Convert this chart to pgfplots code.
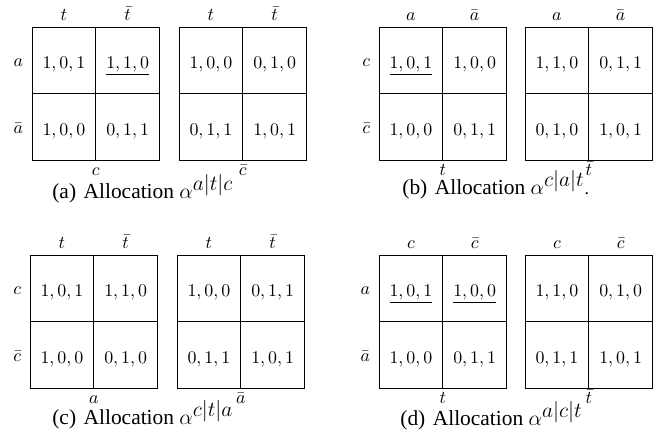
\documentclass[border=0pt]{standalone}
\usepackage{pgfplots}
\pgfplotsset{compat=1.18}
\usepackage{fontspec}
\setmainfont{Liberation Serif}

% one 2x2 payoff matrix per axis; 1px of the reference = 0.56pt
\pgfplotsset{
  payoff/.style={
    scale only axis, width=71.4pt, height=74.5pt, clip=false,
    anchor=north west,
    xmin=0, xmax=2, ymin=0, ymax=2,
    axis line style={line width=0.5pt},
    xtick={0.5,1.5}, ytick={0.5,1.5},
    xticklabel pos=upper,
    major tick length=0pt,
    xticklabel style={anchor=base, yshift=3.7pt},
    yticklabel style={anchor=base east, yshift=-3.6pt, xshift=-1.5pt},
    extra x ticks={1}, extra y ticks={1},
    extra x tick labels={}, extra y tick labels={},
    extra tick style={grid=major, major tick length=0pt},
    major grid style={black, line width=0.5pt},
    every node near coord/.append style={anchor=base, yshift=-4.7pt},
  },
  cells/.style={draw=none, mark=none, point meta=explicit symbolic,
    nodes near coords={$\pgfplotspointmeta$}},
  ucells/.style={draw=none, mark=none, point meta=explicit symbolic,
    nodes near coords={$\underline{\pgfplotspointmeta}$}},
}
\tikzset{botlab/.style={anchor=base, yshift=-8.9pt},
  capnode/.style={anchor=base west, inner sep=0pt}}
\newcommand{\capt}[2]{{\fontsize{12}{14}\selectfont(#1)\hspace{0.35em}Allocation $\alpha^{\textstyle #2}$}}

\begin{document}
\begin{tikzpicture}
\useasboundingbox (0,0) rectangle (370.72pt,-246.96pt);

%% (a)
\begin{axis}[payoff, at={(17.92pt,-15.12pt)},
  xticklabels={$t$,$\bar t$}, yticklabels={$\bar a$,$a$}]
\addplot[cells] table[meta=v, row sep=\\] {x y v\\ 0.5 1.5 1,0,1\\ 0.5 0.5 1,0,0\\ 1.5 0.5 0,1,1\\};
\addplot[ucells] table[meta=v, row sep=\\] {x y v\\ 1.5 1.5 1,1,0\\};
\node[botlab] at (rel axis cs:0.5,0) {$c$};
\end{axis}
\begin{axis}[payoff, at={(100.24pt,-15.12pt)},
  xticklabels={$t$,$\bar t$}, ytick=\empty]
\addplot[cells] table[meta=v, row sep=\\] {x y v\\ 0.5 1.5 1,0,0\\ 1.5 1.5 0,1,0\\ 0.5 0.5 0,1,1\\ 1.5 0.5 1,0,1\\};
\node[botlab] at (rel axis cs:0.5,0) {$\bar c$};
\end{axis}
\node[capnode] at (29.12pt,-110.88pt) {\capt{a}{a|t|c}};

%% (b)
\begin{axis}[payoff, at={(212.24pt,-15.12pt)},
  xticklabels={$a$,$\bar a$}, yticklabels={$\bar c$,$c$}]
\addplot[cells] table[meta=v, row sep=\\] {x y v\\ 1.5 1.5 1,0,0\\ 0.5 0.5 1,0,0\\ 1.5 0.5 0,1,1\\};
\addplot[ucells] table[meta=v, row sep=\\] {x y v\\ 0.5 1.5 1,0,1\\};
\node[botlab] at (rel axis cs:0.5,0) {$t$};
\end{axis}
\begin{axis}[payoff, at={(294.0pt,-15.12pt)},
  xticklabels={$a$,$\bar a$}, ytick=\empty]
\addplot[cells] table[meta=v, row sep=\\] {x y v\\ 0.5 1.5 1,1,0\\ 1.5 1.5 0,1,1\\ 0.5 0.5 0,1,0\\ 1.5 0.5 1,0,1\\};
\node[botlab] at (rel axis cs:0.5,0) {$\bar t$};
\end{axis}
\node[capnode] at (225.12pt,-108.64pt) {\capt{b}{c|a|t}.};

%% (c)
\begin{axis}[payoff, at={(16.8pt,-142.8pt)},
  xticklabels={$t$,$\bar t$}, yticklabels={$\bar c$,$c$}]
\addplot[cells] table[meta=v, row sep=\\] {x y v\\ 0.5 1.5 1,0,1\\ 1.5 1.5 1,1,0\\ 0.5 0.5 1,0,0\\ 1.5 0.5 0,1,0\\};
\node[botlab] at (rel axis cs:0.5,0) {$a$};
\end{axis}
\begin{axis}[payoff, at={(99.12pt,-142.8pt)},
  xticklabels={$t$,$\bar t$}, ytick=\empty]
\addplot[cells] table[meta=v, row sep=\\] {x y v\\ 0.5 1.5 1,0,0\\ 1.5 1.5 0,1,1\\ 0.5 0.5 0,1,1\\ 1.5 0.5 1,0,1\\};
\node[botlab] at (rel axis cs:0.5,0) {$\bar a$};
\end{axis}
\node[capnode] at (29.12pt,-237.44pt) {\capt{c}{c|t|a}};

%% (d)
\begin{axis}[payoff, at={(212.24pt,-142.8pt)},
  xticklabels={$c$,$\bar c$}, yticklabels={$\bar a$,$a$}]
\addplot[cells] table[meta=v, row sep=\\] {x y v\\ 0.5 0.5 1,0,0\\ 1.5 0.5 0,1,1\\};
\addplot[ucells] table[meta=v, row sep=\\] {x y v\\ 0.5 1.5 1,0,1\\ 1.5 1.5 1,0,0\\};
\node[botlab] at (rel axis cs:0.5,0) {$t$};
\end{axis}
\begin{axis}[payoff, at={(294.0pt,-142.8pt)},
  xticklabels={$c$,$\bar c$}, ytick=\empty]
\addplot[cells] table[meta=v, row sep=\\] {x y v\\ 0.5 1.5 1,1,0\\ 1.5 1.5 0,1,0\\ 0.5 0.5 0,1,1\\ 1.5 0.5 1,0,1\\};
\node[botlab] at (rel axis cs:0.5,0) {$\bar t$};
\end{axis}
\node[capnode] at (224.0pt,-238.0pt) {\capt{d}{a|c|t}};
\end{tikzpicture}
\end{document}
